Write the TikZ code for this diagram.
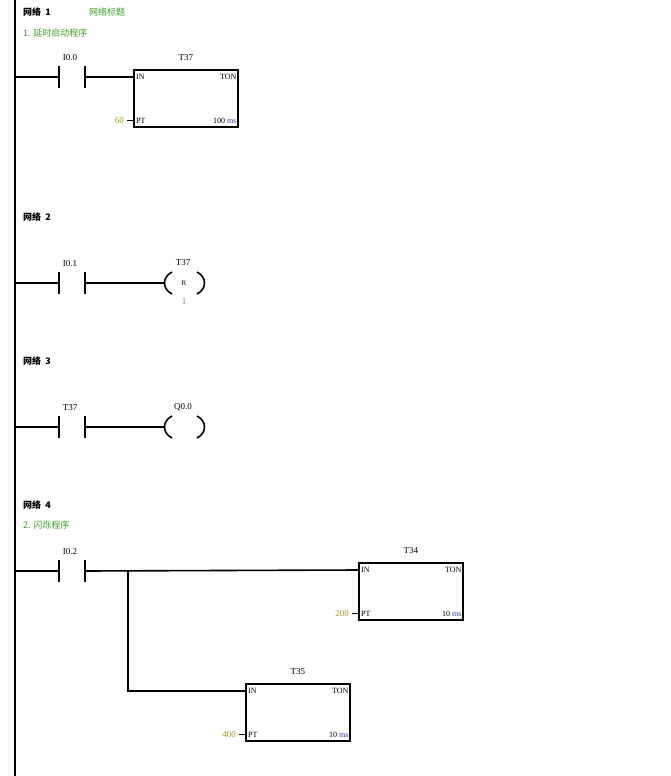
\documentclass[tikz,border=0pt]{standalone}
\usepackage{fontspec}
\setmainfont{Liberation Serif}
\newfontfamily\cjk{Noto Sans CJK SC}
\definecolor{grn}{RGB}{60,160,40}
\definecolor{oli}{RGB}{170,150,30}
\definecolor{msc}{RGB}{40,60,160}
\begin{document}
\begin{tikzpicture}[x=1pt,y=-1pt,
  w/.style={line width=1.6pt},
  t/.style={font=\fontsize{9}{10}\selectfont, inner sep=0pt},
  hd/.style={font=\cjk\bfseries\fontsize{9}{10}\selectfont, inner sep=0pt, anchor=west},
  cmt/.style={font=\cjk\fontsize{9}{10}\selectfont, inner sep=0pt, anchor=west, text=grn},
  tbox/.style={draw, line width=1.6pt, minimum width=104pt, minimum height=57pt, anchor=north west, inner sep=0pt}]
\useasboundingbox (0,0) rectangle (671,776);
\draw[w] (15,0) -- (15,776);
\newcommand{\contact}[3]{% y, label, name
  \draw[w] (15,#1) -- (59,#1); \draw[w] (59,#1-11) -- (59,#1+11);
  \draw[w] (85,#1-11) -- (85,#1+11);
  \node[t] (#3) at (70,#1-19) {#2};
  \coordinate (#3o) at (85,#1);}
\newcommand{\coil}[4]{% y, label, inner, name
  \draw[w] (172,#1-11) .. controls (162,#1-6) and (162,#1+6) .. (172,#1+11);
  \draw[w] (197,#1-11) .. controls (207,#1-6) and (207,#1+6) .. (197,#1+11);
  \coordinate (#4i) at (165,#1);
  \node[t] at (183,#1-20) {#2};
  \node[t,font=\fontsize{7}{8}\selectfont] at (184,#1) {#3};}
\newcommand{\timer}[6]{% x, y, name, label, pt, base
  \node[tbox] (#3) at (#1,#2) {};
  \node[t] at ([yshift=11pt]#3.north) {#4};
  \node[t,anchor=west,font=\fontsize{8}{9}\selectfont] at ([shift={(3,8)}]#3.north west) {IN};
  \node[t,anchor=east,font=\fontsize{8}{9}\selectfont] at ([shift={(-2,8)}]#3.north east) {TON};
  \node[t,anchor=west,font=\fontsize{8}{9}\selectfont] at ([shift={(3,-7)}]#3.south west) {PT};
  \node[t,anchor=east,font=\fontsize{8}{9}\selectfont] at ([shift={(-2,-7)}]#3.south east) {#6 \textcolor{msc}{ms}};
  \draw[line width=1.2pt] ([shift={(-6,-7)}]#3.south west) -- ([shift={(0,-7)}]#3.south west);
  \node[t,anchor=east,text=oli] at ([shift={(-9,-7)}]#3.south west) {#5};
  \coordinate (#3in) at ([yshift=-8pt]#3.north west);}
% Network 1
\node[hd] (h1) at (23,12) {网络\ \ 1};
\node[cmt] (c1) at (89,12) {网络标题};
\node[cmt] (d1) at (23,33) {1. 延时启动程序};
\contact{77}{I0.0}{k1}
\timer{133}{69}{T37a}{T37}{60}{100}
\draw[w] (k1o) -- (T37ain);
% Network 2
\node[hd] (h2) at (23,217) {网络\ \ 2};
\contact{283}{I0.1}{k2}
\coil{283}{T37}{R}{o2}
\node[t,text=gray] at (184,302) {1};
\draw[w] (k2o) -- (o2i);
% Network 3
\node[hd] (h3) at (23,361) {网络\ \ 3};
\contact{427}{T37}{k3}
\coil{427}{Q0.0}{}{o3}
\draw[w] (k3o) -- (o3i);
% Network 4
\node[hd] (h4) at (23,505) {网络\ \ 4};
\node[cmt] (d4) at (23,525) {2. 闪烁程序};
\contact{571}{I0.2}{k4}
\timer{358}{562}{T34}{T34}{200}{10}
\timer{245}{683}{T35}{T35}{400}{10}
\coordinate (br) at (128,571);
\draw[w] (k4o) -- (T34in);
\draw[w] (br) |- (T35in);
\end{tikzpicture}
\end{document}
